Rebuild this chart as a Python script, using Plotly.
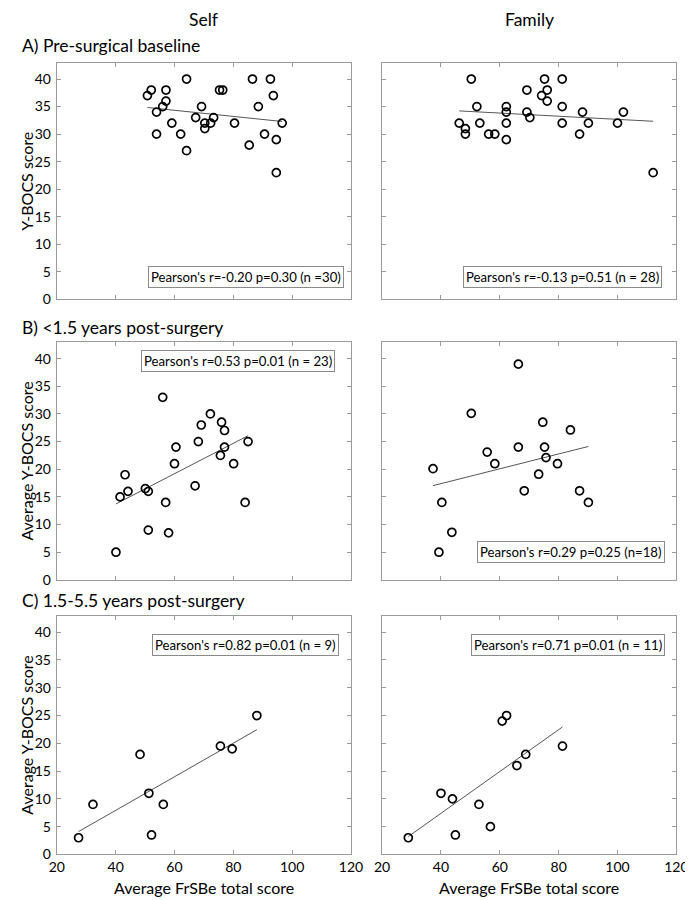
import numpy as np
import plotly.graph_objects as go

# ---------------- data ----------------
# Panel A: Pre-surgical baseline
a_self_x = [50.8, 52.1, 53.9, 53.9, 56.0, 57.1, 57.1, 59.1, 62.1, 64.1, 64.1, 67.2, 69.2, 70.3, 70.3,
            72.3, 73.3, 75.3, 76.4, 80.4, 85.4, 86.5, 88.5, 90.6, 92.6, 93.6, 94.6, 94.6, 96.6]
a_self_y = [37, 38, 34, 30, 35, 38, 36, 32, 30, 40, 27, 33, 35, 32, 31,
            32, 33, 38, 38, 32, 28, 40, 35, 30, 40, 37, 29, 23, 32]
a_fam_x = [46.2, 48.3, 48.3, 50.3, 52.2, 53.2, 56.2, 58.3, 62.2, 62.2, 62.2, 62.2, 69.2, 69.2,
           70.2, 74.2, 75.2, 76.1, 76.1, 81.2, 81.2, 81.2, 87.1, 88.1, 90.1, 100.0, 102.0, 112.1]
a_fam_y = [32, 31, 30, 40, 35, 32, 30, 30, 35, 34, 32, 29, 38, 34,
           33, 37, 40, 38, 36, 40, 35, 32, 30, 34, 32, 32, 34, 23]

# Panel B: <1.5 years post-surgery
b_self_x = [40.1, 41.5, 43.2, 44.2, 50.1, 51.1, 51.1, 56.0, 57.0, 58.0, 60.0, 60.5,
            67.0, 68.1, 69.1, 72.2, 75.6, 76.0, 77.0, 77.0, 80.1, 84.0, 85.0]
b_self_y = [5, 15, 19, 16, 16.5, 16, 9, 33, 14, 8.5, 21, 24,
            17, 25, 28, 30, 22.5, 28.5, 27, 24, 21, 14, 25]
b_fam_x = [37.3, 39.3, 40.3, 43.7, 50.3, 55.7, 58.3, 66.3, 66.3, 68.3, 73.2, 74.6,
           75.2, 75.7, 79.6, 84.0, 87.1, 90.1]
b_fam_y = [20.1, 5.0, 14.0, 8.6, 30.1, 23.1, 21.0, 39.0, 24.0, 16.1, 19.1, 28.5,
           24.0, 22.1, 21.0, 27.1, 16.1, 14.0]

# Panel C: 1.5-5.5 years post-surgery
c_self_x = [27.4, 32.3, 48.3, 51.3, 52.2, 56.2, 75.6, 79.6, 88.0]
c_self_y = [3, 9, 18, 11, 3.5, 9, 19.5, 19, 25]
c_fam_x = [28.9, 40.0, 43.9, 44.9, 52.9, 56.8, 60.8, 62.3, 65.8, 68.8, 81.3]
c_fam_y = [3.0, 11.0, 10.0, 3.5, 9.0, 5.0, 24.0, 25.0, 16.0, 18.0, 19.5]

stats = [
    "Pearson's r=-0.20 p=0.30 (n =30)",
    "Pearson's r=-0.13 p=0.51 (n = 28)",
    "Pearson's r=0.53 p=0.01 (n = 23)",
    "Pearson's r=0.29 p=0.25 (n=18)",
    "Pearson's r=0.82 p=0.01 (n = 9)",
    "Pearson's r=0.71 p=0.01 (n = 11)",
]
col_titles = ["Self", "Family"]
row_titles = ["A) Pre-surgical baseline", "B) <1.5 years post-surgery", "C) 1.5-5.5 years post-surgery"]
y_titles = ["Y-BOCS score", "Average Y-BOCS score", "Average Y-BOCS score"]
x_title = "Average FrSBe total score"
x_ticks = [20, 40, 60, 80, 100, 120]
y_ticks = [0, 5, 10, 15, 20, 25, 30, 35, 40]

panels = [(a_self_x, a_self_y), (a_fam_x, a_fam_y),
          (b_self_x, b_self_y), (b_fam_x, b_fam_y),
          (c_self_x, c_self_y), (c_fam_x, c_fam_y)]

# ---------------- layout geometry (pixels) ----------------
W, H = 693, 900
col_px = [(42, 345), (377, 680)]
row_px = [(55, 294), (337, 577), (613, 854)]
FONT = "Lato, 'Open Sans', sans-serif"

# annotation box placements: (x domain right, y domain, yanchor)
box_pos = [(0.977, 0.046, "bottom"), (0.950, 0.046, "bottom"),
           (0.944, 0.967, "top"), (0.960, 0.071, "bottom"),
           (0.960, 0.921, "top"), (0.960, 0.921, "top")]

fig = go.Figure()
layout = {}
annotations = []

for i, (xs, ys) in enumerate(panels):
    r, c = divmod(i, 2)
    n = i + 1
    xa = "x" if n == 1 else f"x{n}"
    ya = "y" if n == 1 else f"y{n}"
    xs_a = np.array(xs, dtype=float)
    ys_a = np.array(ys, dtype=float)
    slope, icpt = np.polyfit(xs_a, ys_a, 1)
    lx = np.array([xs_a.min(), xs_a.max()])
    ly = slope * lx + icpt
    fig.add_trace(go.Scatter(x=lx, y=ly, mode="lines", xaxis=xa, yaxis=ya,
                             line=dict(color="#555555", width=1), showlegend=False,
                             hoverinfo="skip"))
    fig.add_trace(go.Scatter(x=xs, y=ys, mode="markers", xaxis=xa, yaxis=ya,
                             marker=dict(symbol="circle-open", size=8, color="black",
                                         line=dict(width=1.7, color="black")),
                             showlegend=False))
    x0, x1 = col_px[c]
    y0, y1 = row_px[r]
    common = dict(showline=True, mirror="allticks", linecolor="#9a9a9a", linewidth=1,
                  ticks="inside", ticklen=4, tickcolor="#9a9a9a", tickwidth=1,
                  showgrid=False, zeroline=False,
                  tickfont=dict(family=FONT, size=14, color="black"))
    layout["xaxis" if n == 1 else f"xaxis{n}"] = dict(
        domain=[x0 / W, x1 / W], range=[20, 120], tickvals=x_ticks,
        showticklabels=(r == 2), anchor=ya, **common)
    layout["yaxis" if n == 1 else f"yaxis{n}"] = dict(
        domain=[1 - y1 / H, 1 - y0 / H], range=[0, 43], tickvals=y_ticks,
        showticklabels=(c == 0), anchor=xa, ticklabelstandoff=2, **common)
    bx, by, yanch = box_pos[i]
    annotations.append(dict(
        text=stats[i], xref=f"{xa} domain", yref=f"{ya} domain", x=bx, y=by,
        xanchor="right", yanchor=yanch, showarrow=False,
        font=dict(family=FONT, size=13.2, color="black"),
        bgcolor="white", bordercolor="#8a8a8a", borderwidth=1, borderpad=2))

# column titles
for c, t in enumerate(col_titles):
    x0, x1 = col_px[c]
    annotations.append(dict(text=t, xref="paper", yref="paper", x=(x0 + x1) / 2 / W,
                            y=1 - 12 / H, xanchor="center", yanchor="middle",
                            showarrow=False, font=dict(family=FONT, size=17.5, color="black")))
# row titles
row_title_y = [38, 322, 598]
for r, t in enumerate(row_titles):
    annotations.append(dict(text=t, xref="paper", yref="paper", x=4 / W,
                            y=1 - row_title_y[r] / H, xanchor="left", yanchor="middle",
                            showarrow=False, font=dict(family=FONT, size=17.5, color="black")))
# y-axis titles
for r, t in enumerate(y_titles):
    y0, y1 = row_px[r]
    annotations.append(dict(text=t, xref="paper", yref="paper", x=11 / W,
                            y=1 - ((y0 + y1) / 2) / H, xanchor="center", yanchor="middle",
                            textangle=-90, showarrow=False,
                            font=dict(family=FONT, size=16, color="black")))
# x-axis titles
for c in range(2):
    x0, x1 = col_px[c]
    annotations.append(dict(text=x_title, xref="paper", yref="paper", x=(x0 + x1) / 2 / W,
                            y=1 - 887 / H, xanchor="center", yanchor="middle",
                            showarrow=False, font=dict(family=FONT, size=16, color="black")))

fig.update_layout(**layout)
fig.update_layout(width=W, height=H, margin=dict(l=0, r=0, t=0, b=0),
                  plot_bgcolor="white", paper_bgcolor="white",
                  annotations=annotations, font=dict(family=FONT))
fig.write_html("out.html")
